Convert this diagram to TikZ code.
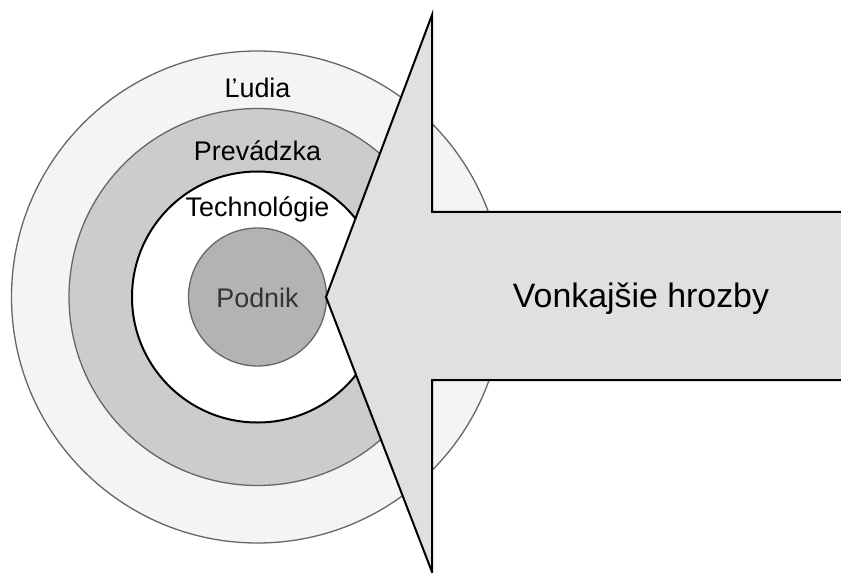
\documentclass[tikz,border=0pt]{standalone}
\usepackage{fontspec}
\setmainfont{Liberation Sans}
\definecolor{ringA}{HTML}{F4F4F4}
\definecolor{ringB}{HTML}{CCCCCC}
\definecolor{coreC}{HTML}{B3B3B3}
\definecolor{arrowF}{HTML}{E0E0E0}
\definecolor{edgeG}{HTML}{666666}
\definecolor{textG}{HTML}{333333}
\begin{document}
\begin{tikzpicture}[x=1bp,y=-1bp,
  ring/.style={circle, inner sep=0pt, draw=edgeG, line width=1.3bp},
  lbl/.style={inner sep=0pt, font=\fontsize{27}{32}\selectfont},
  bigarrow/.style={fill=arrowF},
  arrowedge/.style={draw=black, line width=2bp, line join=miter}]
\useasboundingbox (0,0) rectangle (841,573);
% concentric layers
\node[ring, fill=ringA, minimum size=492bp] (people) at (257.5,297) {};
\node[ring, fill=ringB, minimum size=377bp] (ops) at (257.5,297) {};
\node[ring, fill=white, draw=black, line width=2bp, minimum size=251bp] (tech) at (257.5,297) {};
\node[ring, fill=coreC, minimum size=138bp] (core) at (257.5,297) {};
% threat arrow
\coordinate (tip) at (326,297);
\coordinate (headT) at (432,15);
\coordinate (headB) at (432,572);
\coordinate (shaftTL) at (432,212);
\coordinate (shaftBL) at (432,380);
\coordinate (shaftTR) at (841,212);
\coordinate (shaftBR) at (841,380);
\fill[bigarrow] (tip) -- (headT) -- (shaftTL) -- (shaftTR) -- (shaftBR) -- (shaftBL) -- (headB) -- cycle;
\draw[arrowedge] (shaftTR) -- (shaftTL) -- (headT) -- (tip) -- (headB) -- (shaftBL) -- (shaftBR);
% labels
\node[lbl] (lpeople) at (257.5,88) {Ľudia};
\node[lbl] (lops) at (257.5,151) {Prevádzka};
\node[lbl] (ltech) at (257.5,209) {Technológie};
\node[lbl, text=textG] (lcore) at (257.5,298) {Podnik};
\node[inner sep=0pt, font=\fontsize{34}{40}\selectfont] (lthreat) at (641,299) {Vonkajšie hrozby};
\end{tikzpicture}
\end{document}
